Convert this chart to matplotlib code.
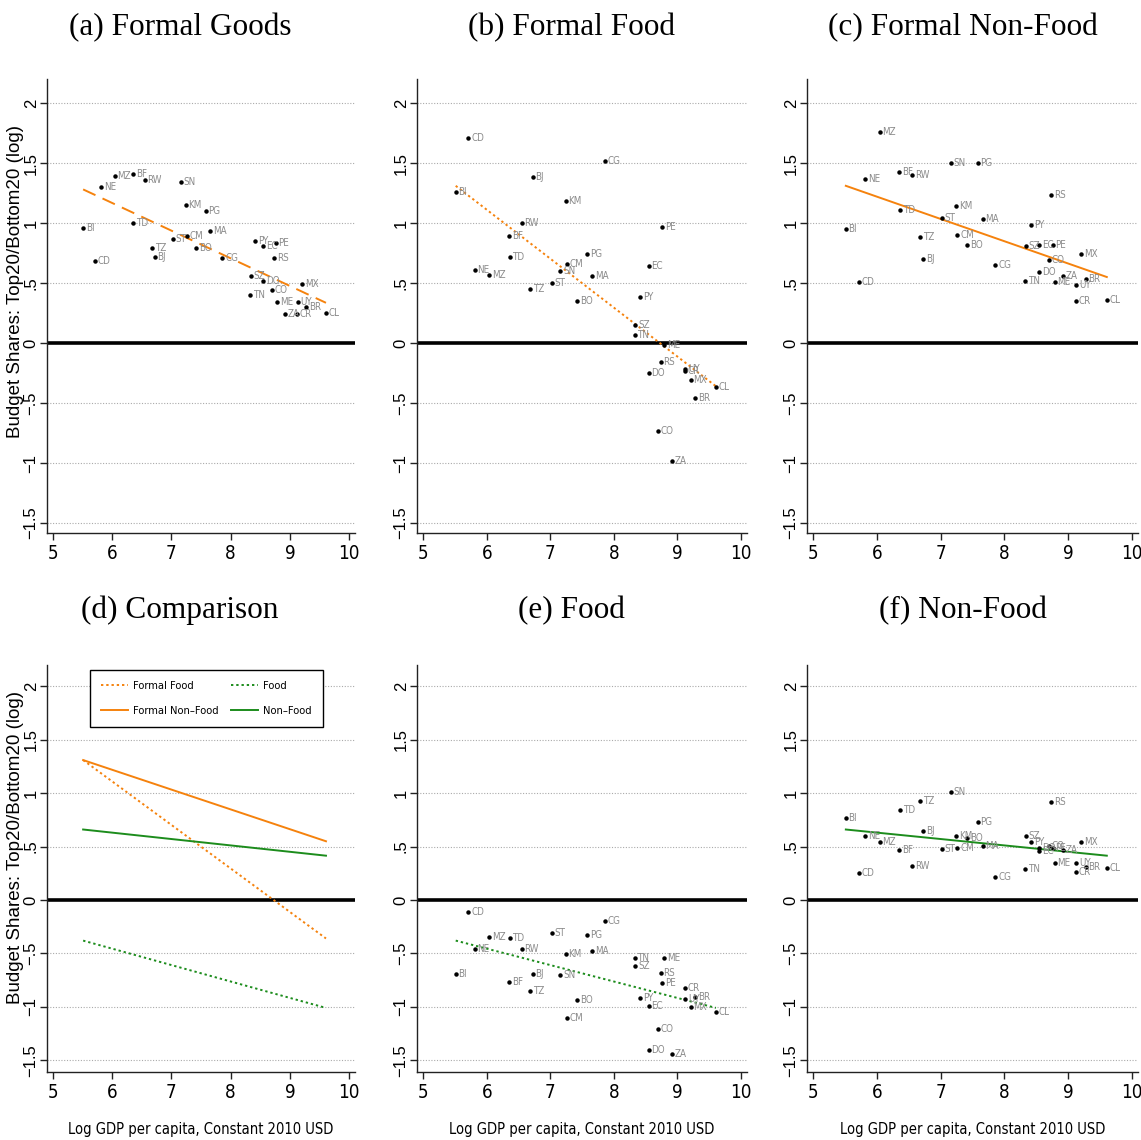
import matplotlib
matplotlib.use("Agg")
import matplotlib.pyplot as plt
import numpy as np

# country codes and log GDP per capita (shared by all panels)
countries = ["BI", "CD", "NE", "MZ", "BF", "RW", "TD", "TZ", "BJ", "SN", "ST",
             "KM", "CM", "BO", "PG", "MA", "CG", "SZ", "TN", "PY", "EC", "DO",
             "CO", "RS", "PE", "ME", "ZA", "UY", "CR", "MX", "BR", "CL"]
gdp = [5.51, 5.71, 5.81, 6.04, 6.35, 6.55, 6.36, 6.68, 6.72, 7.16, 7.02,
       7.24, 7.26, 7.42, 7.58, 7.66, 7.86, 8.34, 8.33, 8.42, 8.55, 8.55,
       8.70, 8.74, 8.76, 8.79, 8.92, 9.13, 9.12, 9.21, 9.28, 9.61]

formal_goods = [0.955, 0.68, 1.30, 1.39, 1.41, 1.36, 1.00, 0.79, 0.72, 1.34, 0.87,
                1.15, 0.89, 0.79, 1.10, 0.93, 0.71, 0.56, 0.40, 0.85, 0.81, 0.52,
                0.44, 0.71, 0.83, 0.34, 0.245, 0.345, 0.245, 0.49, 0.30, 0.25]
formal_food = [1.255, 1.71, 0.61, 0.57, 0.89, 1.00, 0.72, 0.45, 1.38, 0.60, 0.50,
               1.18, 0.66, 0.35, 0.74, 0.56, 1.52, 0.15, 0.067, 0.38, 0.64, -0.25,
               -0.73, -0.16, 0.97, -0.02, -0.98, -0.22, -0.23, -0.31, -0.46, -0.37]
formal_nonfood = [0.95, 0.51, 1.37, 1.76, 1.425, 1.40, 1.11, 0.88, 0.70, 1.50, 1.04,
                  1.14, 0.90, 0.82, 1.50, 1.03, 0.65, 0.81, 0.52, 0.98, 0.82, 0.59,
                  0.69, 1.23, 0.82, 0.51, 0.56, 0.48, 0.35, 0.74, 0.53, 0.355]
food = [-0.69, -0.11, -0.456, -0.35, -0.77, -0.46, -0.36, -0.855, -0.69, -0.705, -0.31,
        -0.51, -1.10, -0.94, -0.33, -0.48, -0.20, -0.62, -0.54, -0.92, -0.99, -1.40,
        -1.21, -0.68, -0.78, -0.54, -1.445, -0.93, -0.82, -1.00, -0.91, -1.05]
nonfood = [0.77, 0.25, 0.60, 0.54, 0.47, 0.315, 0.84, 0.93, 0.645, 1.01, 0.48,
           0.60, 0.49, 0.58, 0.73, 0.51, 0.22, 0.60, 0.29, 0.54, 0.46, 0.49,
           0.51, 0.915, 0.49, 0.35, 0.47, 0.35, 0.26, 0.54, 0.31, 0.30]

# fitted lines (endpoints)
fit_x = [5.51, 9.61]
fit_goods = [1.28, 0.335]
fit_food_formal = [1.31, -0.36]
fit_nonfood_formal = [1.31, 0.55]
fit_food = [-0.38, -1.01]
fit_nonfood = [0.66, 0.415]

ORANGE = "#f5820d"
GREEN = "#1c8c1c"
NARROW = ["Liberation Sans Narrow", "DejaVu Sans"]
SERIF = ["Liberation Serif", "DejaVu Serif"]
SANS = ["Liberation Sans", "DejaVu Sans"]
COND = "condensed"

yticks = [2, 1.5, 1, 0.5, 0, -0.5, -1, -1.5]
ylabels = ["2", "1.5", "1", ".5", "0", "\u2212.5", "\u22121", "\u22121.5"]

W, H = 1141, 1140
fig = plt.figure(figsize=(W / 100, H / 100), dpi=100)

col_px = [(47, 308), (417, 330), (807, 331)]
row_px = [(79, 533, -1.583), (665, 1072, -1.61)]
title_x = [180, 571, 963]
titles = [["(a) Formal Goods", "(b) Formal Food", "(c) Formal Non-Food"],
          ["(d) Comparison", "(e) Food", "(f) Non-Food"]]
title_y = [35, 618]
ylab_y = [282, 847]


def make_ax(r, c):
    left, w = col_px[c]
    top, bot, ymin = row_px[r]
    ax = fig.add_axes([left / W, 1 - bot / H, w / W, (bot - top) / H])
    ax.set_xlim(4.9, 10.1)
    ax.set_ylim(ymin, 2.2)
    for s in ["top", "right"]:
        ax.spines[s].set_visible(False)
    for s in ["left", "bottom"]:
        ax.spines[s].set_linewidth(1.0)
        ax.spines[s].set_color("#222222")
    ax.set_yticks(yticks)
    ax.set_yticklabels(ylabels, rotation=90, va="center", family=SANS, fontsize=12)
    ax.set_xticks([5, 6, 7, 8, 9, 10])
    ax.set_xticklabels(["5", "6", "7", "8", "9", "10"], family=NARROW,
                       fontstretch=COND, fontsize=13.5)
    ax.tick_params(axis="y", direction="out", length=5, width=1, color="#222222", pad=1)
    ax.tick_params(axis="x", direction="out", length=5, width=1, color="#222222", pad=3)
    for yv in yticks:
        if yv != 0:
            ax.axhline(yv, color="#aaaaaa", lw=0.8, ls=(0, (1, 1.5)), zorder=0)
    ax.axhline(0, color="black", lw=2.6, zorder=1)
    fig.text(title_x[c] / W, 1 - title_y[r] / H, titles[r][c], ha="center",
             va="baseline", family=SERIF, fontsize=22.5)
    if c == 0:
        fig.text(16 / W, 1 - ylab_y[r] / H,
                 "Budget Shares: Top20/Bottom20 (log)", rotation=90,
                 ha="center", va="center", family=SANS, fontsize=13.5)
    if r == 1:
        ax.set_xlabel("Log GDP per capita, Constant 2010 USD", family=NARROW,
                      fontstretch=COND, fontsize=10.5, labelpad=14)
    return ax


def scatter_panel(ax, yvals):
    ax.plot(gdp, yvals, "o", ms=2.2, color="black", zorder=3)
    for code, xv, yv in zip(countries, gdp, yvals):
        ax.annotate(code, (xv, yv), xytext=(2, 0), textcoords="offset points",
                    ha="left", va="center", fontsize=7, color="#8a8a8a",
                    family=NARROW, fontstretch=COND, zorder=3)


ax_a = make_ax(0, 0)
scatter_panel(ax_a, formal_goods)
ax_a.plot(fit_x, fit_goods, color=ORANGE, lw=1.4, ls=(0, (7, 4)), zorder=2)

ax_b = make_ax(0, 1)
scatter_panel(ax_b, formal_food)
ax_b.plot(fit_x, fit_food_formal, color=ORANGE, lw=1.4, ls=(0, (1.2, 1.5)), zorder=2)

ax_c = make_ax(0, 2)
scatter_panel(ax_c, formal_nonfood)
ax_c.plot(fit_x, fit_nonfood_formal, color=ORANGE, lw=1.4, zorder=2)

ax_d = make_ax(1, 0)
ax_d.plot(fit_x, fit_food_formal, color=ORANGE, lw=1.4, ls=(0, (1.2, 1.5)), label="Formal Food")
ax_d.plot(fit_x, fit_nonfood_formal, color=ORANGE, lw=1.4, label="Formal Non\u2013Food")
ax_d.plot(fit_x, fit_food, color=GREEN, lw=1.4, ls=(0, (1.2, 1.5)), label="Food")
ax_d.plot(fit_x, fit_nonfood, color=GREEN, lw=1.4, label="Non\u2013Food")
leg = ax_d.legend(ncol=2, loc="upper left", bbox_to_anchor=(43 / 308, 1 - 5 / 407),
                  borderaxespad=0, frameon=True, fancybox=False, edgecolor="black",
                  framealpha=1, prop={"family": NARROW, "size": 8, "stretch": COND},
                  handlelength=2.4, columnspacing=1.1, borderpad=1.0,
                  labelspacing=1.35, handletextpad=0.5)
leg.get_frame().set_linewidth(1.0)

ax_e = make_ax(1, 1)
scatter_panel(ax_e, food)
ax_e.plot(fit_x, fit_food, color=GREEN, lw=1.4, ls=(0, (1.2, 1.5)), zorder=2)

ax_f = make_ax(1, 2)
scatter_panel(ax_f, nonfood)
ax_f.plot(fit_x, fit_nonfood, color=GREEN, lw=1.4, zorder=2)

fig.savefig("out.png", dpi=100)
